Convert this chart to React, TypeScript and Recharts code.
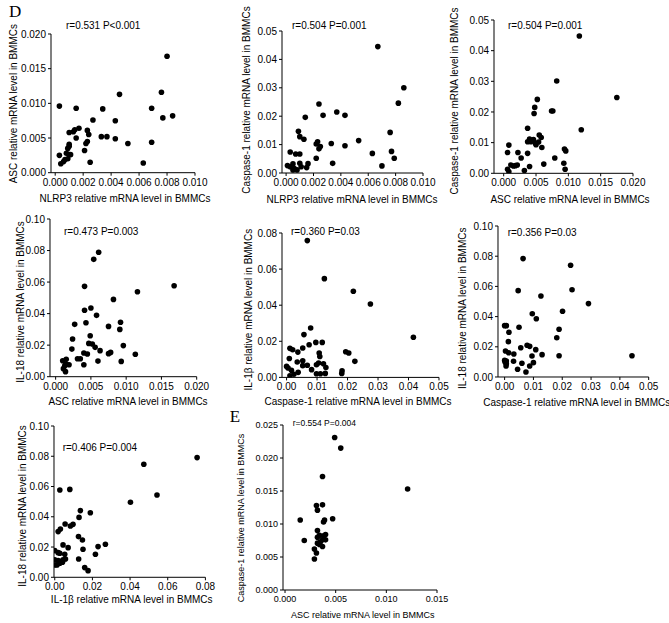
import React from 'react';
import { ScatterChart, Scatter, XAxis, YAxis, Label } from 'recharts';

const FONT = '"Liberation Sans", Arial, Helvetica, sans-serif';
const SERIF = '"Liberation Serif", "Times New Roman", serif';

// ---------- Data ----------
// Panel 1: NLRP3 vs ASC
const p1X = [0.0080,0.0076,0.0046,0.0003,0.0015,0.0034,0.0069,0.0084,0.0077,0.0027,0.0043,0.0017,0.0014,0.0010,0.0013,0.0023,0.0024,0.0015,0.0033,0.0037,0.0043,0.0052,0.0069,0.0023,0.0022,0.0010,0.0010,0.0009,0.0021,0.0008,0.0010,0.0003,0.0007,0.0006,0.0004,0.0025,0.0063,0.0009,0.0011];
const p1Y = [0.0168,0.0116,0.0113,0.0096,0.0093,0.0092,0.0093,0.0082,0.0079,0.0076,0.0075,0.0064,0.0062,0.0058,0.0059,0.0061,0.0055,0.0050,0.0052,0.0052,0.0049,0.0042,0.0044,0.0045,0.0042,0.0041,0.0038,0.0035,0.0032,0.0028,0.0026,0.0025,0.0019,0.0016,0.0013,0.0015,0.0014,0.0020,0.0026];
// Panel 2: NLRP3 vs Caspase-1
const p2X = [0.0067,0.0086,0.0082,0.0024,0.0027,0.0037,0.0043,0.0014,0.0009,0.0076,0.0010,0.0013,0.0053,0.0023,0.0022,0.0033,0.0025,0.0024,0.0043,0.0003,0.0007,0.0010,0.0063,0.0077,0.0022,0.0079,0.0034,0.0016,0.0015,0.0010,0.0005,0.0001,0.0003,0.0006,0.0008,0.0005,0.0070,0.0011];
const p2Y = [0.0445,0.0300,0.0246,0.0243,0.0203,0.0215,0.0203,0.0196,0.0147,0.0143,0.0128,0.0119,0.0114,0.0110,0.0102,0.0104,0.0093,0.0085,0.0096,0.0074,0.0067,0.0067,0.0069,0.0076,0.0052,0.0052,0.0034,0.0033,0.0019,0.0034,0.0032,0.0026,0.0022,0.0016,0.0011,0.0011,0.0025,0.0022];
// Panel 3: ASC vs Caspase-1
const p3X = [0.0117,0.0082,0.0175,0.0052,0.0048,0.0047,0.0074,0.0076,0.0037,0.0120,0.0055,0.0058,0.0040,0.0046,0.0037,0.0042,0.0049,0.0054,0.0050,0.0008,0.0059,0.0094,0.0096,0.0006,0.0022,0.0037,0.0027,0.0079,0.0093,0.0062,0.0011,0.0018,0.0021,0.0040,0.0006,0.0008,0.0032,0.0095,0.0015];
const p3Y = [0.0448,0.0301,0.0247,0.0241,0.0215,0.0195,0.0203,0.0203,0.0147,0.0142,0.0125,0.0117,0.0112,0.0110,0.0103,0.0103,0.0098,0.0102,0.0093,0.0092,0.0084,0.0079,0.0073,0.0068,0.0068,0.0065,0.0050,0.0050,0.0033,0.0030,0.0027,0.0025,0.0027,0.0022,0.0013,0.0005,0.0009,0.0013,0.0024];
// Panel 4: ASC vs IL-18
const p4X = [0.0061,0.0054,0.0168,0.0041,0.0116,0.0082,0.0041,0.0050,0.0058,0.0043,0.0027,0.0092,0.0075,0.0091,0.0049,0.0024,0.0047,0.0052,0.0096,0.0056,0.0023,0.0063,0.0078,0.0075,0.0040,0.0045,0.0113,0.0031,0.0035,0.0010,0.0015,0.0060,0.0093,0.0019,0.0013,0.0040,0.0011,0.0014,0.0015];
const p4Y = [0.0789,0.0744,0.0577,0.0573,0.0539,0.0490,0.0421,0.0436,0.0389,0.0342,0.0332,0.0345,0.0319,0.0300,0.0260,0.0239,0.0211,0.0207,0.0197,0.0186,0.0175,0.0165,0.0154,0.0146,0.0150,0.0144,0.0142,0.0114,0.0114,0.0101,0.0110,0.0099,0.0097,0.0076,0.0070,0.0076,0.0051,0.0032,0.0080];
// Panel 5: Caspase-1 vs IL-1beta
const p5X = [0.0068,0.0124,0.0219,0.0275,0.0416,0.0079,0.0057,0.0074,0.0096,0.0117,0.0053,0.0011,0.0020,0.0037,0.0009,0.0107,0.0035,0.0053,0.0204,0.0194,0.0224,0.0109,0.0098,0.0105,0.0121,0.0129,0.0053,0.0068,0.0082,0.0000,0.0005,0.0016,0.0127,0.0181,0.0182,0.0098,0.0111,0.0038,0.0024,0.0011];
const p5Y = [0.0758,0.0547,0.0477,0.0407,0.0222,0.0274,0.0237,0.0181,0.0194,0.0194,0.0163,0.0161,0.0153,0.0140,0.0105,0.0135,0.0085,0.0092,0.0135,0.0142,0.0089,0.0116,0.0070,0.0080,0.0076,0.0055,0.0065,0.0067,0.0043,0.0061,0.0052,0.0039,0.0022,0.0022,0.0037,0.0020,0.0020,0.0028,0.0017,0.0009];
// Panel 6: Caspase-1 vs IL-18
const p6X = [0.0064,0.0229,0.0234,0.0047,0.0126,0.0291,0.0201,0.0096,0.0110,0.0000,0.0006,0.0050,0.0189,0.0015,0.0181,0.0013,0.0056,0.0078,0.0087,0.0003,0.0014,0.0108,0.0130,0.0032,0.0095,0.0189,0.0442,0.0000,0.0002,0.0006,0.0031,0.0060,0.0005,0.0087,0.0100,0.0045,0.0074,0.0006];
const p6Y = [0.0784,0.0740,0.0578,0.0572,0.0536,0.0486,0.0435,0.0419,0.0386,0.0340,0.0340,0.0329,0.0316,0.0296,0.0260,0.0234,0.0194,0.0210,0.0203,0.0172,0.0161,0.0181,0.0148,0.0152,0.0139,0.0141,0.0141,0.0110,0.0097,0.0106,0.0104,0.0091,0.0073,0.0073,0.0095,0.0051,0.0033,0.0088];
// Panel 7: IL-1beta vs IL-18
const p7X = [0.0756,0.0473,0.0543,0.0402,0.0027,0.0080,0.0189,0.0136,0.0129,0.0030,0.0018,0.0055,0.0083,0.0097,0.0126,0.0147,0.0044,0.0071,0.0269,0.0230,0.0150,0.0216,0.0000,0.0018,0.0027,0.0053,0.0127,0.0057,0.0044,0.0000,0.0018,0.0032,0.0159,0.0177,0.0000,0.0012,0.0027,0.0041];
const p7Y = [0.0791,0.0747,0.0544,0.0496,0.0577,0.0581,0.0427,0.0441,0.0396,0.0319,0.0302,0.0352,0.0339,0.0350,0.0269,0.0247,0.0214,0.0196,0.0218,0.0203,0.0185,0.0152,0.0176,0.0163,0.0159,0.0152,0.0121,0.0121,0.0115,0.0115,0.0110,0.0104,0.0064,0.0044,0.0081,0.0081,0.0093,0.0099];
// Panel 8 (E): ASC vs Caspase-1
const p8X = [0.0049,0.0055,0.0037,0.0121,0.0031,0.0037,0.0032,0.0015,0.0047,0.0039,0.0038,0.0032,0.0034,0.0032,0.0038,0.0040,0.0037,0.0040,0.0019,0.0032,0.0034,0.0037,0.0029,0.0031,0.0029,0.0035];
const p8Y = [0.0231,0.0215,0.0172,0.0153,0.0128,0.0129,0.0121,0.0106,0.0108,0.0106,0.0103,0.0090,0.0083,0.0080,0.0082,0.0084,0.0076,0.0076,0.0075,0.0071,0.0069,0.0066,0.0062,0.0056,0.0047,0.0073];

// Tick values
const ticks0010by002 = [0, 0.002, 0.004, 0.006, 0.008, 0.010];
const ticks0020by005 = [0, 0.005, 0.010, 0.015, 0.020];
const ticks005by01 = [0, 0.01, 0.02, 0.03, 0.04, 0.05];
const ticks010by02 = [0, 0.02, 0.04, 0.06, 0.08, 0.10];
const ticks008by02 = [0, 0.02, 0.04, 0.06, 0.08];
const ticks0025by005 = [0, 0.005, 0.010, 0.015, 0.020, 0.025];
const ticks0015by005 = [0, 0.005, 0.010, 0.015];

// Titles and annotations
const tNLRP3 = 'NLRP3 relative mRNA level in BMMCs';
const tASC = 'ASC relative mRNA level in BMMCs';
const tCasp = 'Caspase-1 relative mRNA level in BMMCs';
const tIL18 = 'IL-18 relative mRNA level in BMMCs';
const tIL1b = 'IL-1\u03b2 relative mRNA level in BMMCs';
const notes = ['r=0.531 P<0.001', 'r=0.504 P=0.001', 'r=0.504 P=0.001', 'r=0.473 P=0.003', 'r=0.360 P=0.03', 'r=0.356 P=0.03', 'r=0.406 P=0.004', 'r=0.554 P=0.004'];

type Cfg = {
  axisX: number; xEnd: number; top: number; bottom: number;
  xMin: number; xTicks: number[]; xDec: number;
  yTicks: number[]; yDec: number;
  xs: number[]; ys: number[];
  xTitle: string; yTitle: string; note: string;
  xTitlePos: [number, number]; yTitlePos: [number, number]; notePos: [number, number];
  letter?: { text: string; x: number; y: number };
  fs: number; noteFs: number;
};

const panels: Cfg[] = [
  { axisX: 51, xEnd: 195, top: 34.3, bottom: 173, xMin: -0.0003, xTicks: ticks0010by002, xDec: 3, yTicks: ticks0020by005, yDec: 3,
    xs: p1X, ys: p1Y, xTitle: tNLRP3, yTitle: tASC, note: notes[0], xTitlePos: [125, 199], yTitlePos: [14, 104], notePos: [66, 26],
    letter: { text: 'D', x: 9, y: 17 }, fs: 10, noteFs: 10 },
  { axisX: 282, xEnd: 423, top: 31, bottom: 173, xMin: -0.0003, xTicks: ticks0010by002, xDec: 3, yTicks: ticks005by01, yDec: 2,
    xs: p2X, ys: p2Y, xTitle: tNLRP3, yTitle: tCasp, note: notes[1], xTitlePos: [352, 199], yTitlePos: [246, 100], notePos: [292, 25], fs: 10, noteFs: 10 },
  { axisX: 494, xEnd: 633, top: 20, bottom: 173.3, xMin: -0.0015, xTicks: ticks0020by005, xDec: 3, yTicks: ticks005by01, yDec: 2,
    xs: p3X, ys: p3Y, xTitle: tASC, yTitle: tCasp, note: notes[2], xTitlePos: [570, 200], yTitlePos: [455, 101], notePos: [508, 26], fs: 10, noteFs: 10 },
  { axisX: 50, xEnd: 196.7, top: 219, bottom: 376.7, xMin: -0.0008, xTicks: ticks0020by005, xDec: 3, yTicks: ticks010by02, yDec: 2,
    xs: p4X, ys: p4Y, xTitle: tASC, yTitle: tIL18, note: notes[3], xTitlePos: [128, 402], yTitlePos: [21, 302], notePos: [64, 232], fs: 10, noteFs: 10 },
  { axisX: 282, xEnd: 439, top: 233.3, bottom: 377.7, xMin: -0.0015, xTicks: ticks005by01, xDec: 2, yTicks: ticks008by02, yDec: 2,
    xs: p5X, ys: p5Y, xTitle: tCasp, yTitle: tIL1b, note: notes[4], xTitlePos: [358, 402], yTitlePos: [249, 310], notePos: [291, 232], fs: 10, noteFs: 10 },
  { axisX: 498.3, xEnd: 649, top: 225.7, bottom: 376.7, xMin: -0.0023, xTicks: ticks005by01, xDec: 2, yTicks: ticks010by02, yDec: 2,
    xs: p6X, ys: p6Y, xTitle: tCasp, yTitle: tIL18, note: notes[5], xTitlePos: [577, 402], yTitlePos: [463, 308], notePos: [508, 232], fs: 10, noteFs: 10 },
  { axisX: 54.3, xEnd: 205.7, top: 426, bottom: 577.3, xMin: -0.0004, xTicks: ticks008by02, xDec: 2, yTicks: ticks010by02, yDec: 2,
    xs: p7X, ys: p7Y, xTitle: tIL1b, yTitle: tIL18, note: notes[6], xTitlePos: [132, 600], yTitlePos: [23, 506], notePos: [63, 448], fs: 10, noteFs: 10 },
  { axisX: 283.3, xEnd: 437.3, top: 425, bottom: 590, xMin: -0.0002, xTicks: ticks0015by005, xDec: 3, yTicks: ticks0025by005, yDec: 3,
    xs: p8X, ys: p8Y, xTitle: tASC, yTitle: tCasp, note: notes[7], xTitlePos: [363, 615], yTitlePos: [241, 518], notePos: [293, 423],
    letter: { text: 'E', x: 230, y: 422 }, fs: 9, noteFs: 8.5 },
];

const Dot = (props: any) => {
  const { cx, cy } = props;
  if (cx == null || cy == null) return null;
  return <circle cx={cx} cy={cy} r={2.8} fill="#000" />;
};

function Panel({ c }: { c: Cfg }) {
  const YW = 60;
  const MT = 18;
  const MR = 15;
  const XH = 45;
  const left = c.axisX - YW;
  const top = c.top - MT;
  const width = c.xEnd + MR - left;
  const height = c.bottom + XH - top;
  const data = c.xs.map((x, i) => ({ x, y: c.ys[i] }));
  const lx = (px: number) => px - left;
  const ly = (py: number) => py - top;
  const yMax = c.yTicks[c.yTicks.length - 1];
  const xMax = c.xTicks[c.xTicks.length - 1];

  const texts = () => (
    <g>
      <text x={lx(c.notePos[0])} y={ly(c.notePos[1])} dominantBaseline="central" fontSize={c.noteFs} fontFamily={FONT} fill="#000">{c.note}</text>
      <text x={lx(c.xTitlePos[0])} y={ly(c.xTitlePos[1])} dominantBaseline="central" textAnchor="middle" fontSize={c.fs} fontFamily={FONT} fill="#000">{c.xTitle}</text>
      <text x={lx(c.yTitlePos[0])} y={ly(c.yTitlePos[1])} dominantBaseline="central" textAnchor="middle" fontSize={c.fs} fontFamily={FONT} fill="#000"
        transform={`rotate(-90 ${lx(c.yTitlePos[0])} ${ly(c.yTitlePos[1])})`}>{c.yTitle}</text>
      {c.letter ? (
        <text x={lx(c.letter.x)} y={ly(c.letter.y)} fontSize={17} fontFamily={SERIF} fill="#000">{c.letter.text}</text>
      ) : null}
    </g>
  );

  return (
    <div style={{ position: 'absolute', left, top, width, height, overflow: 'visible' }}>
      <ScatterChart width={width} height={height} margin={{ top: MT, right: MR, bottom: 0, left: 0 }} style={{ overflow: 'visible' }}>
        <XAxis type="number" dataKey="x" domain={[c.xMin, xMax]} ticks={c.xTicks} interval={0} height={XH}
          tickFormatter={(v: number) => v.toFixed(c.xDec)} tickSize={3} tickMargin={3}
          axisLine={{ stroke: '#000', strokeWidth: 1 }} tickLine={{ stroke: '#000', strokeWidth: 1 }}
          tick={{ fontSize: c.fs, fill: '#000', fontFamily: FONT }} allowDataOverflow />
        <YAxis type="number" dataKey="y" domain={[0, yMax]} ticks={c.yTicks} interval={0} width={YW}
          tickFormatter={(v: number) => v.toFixed(c.yDec)} tickSize={3} tickMargin={2}
          axisLine={{ stroke: '#000', strokeWidth: 1 }} tickLine={{ stroke: '#000', strokeWidth: 1 }}
          tick={{ fontSize: c.fs, fill: '#000', fontFamily: FONT }} allowDataOverflow>
          <Label content={texts} />
        </YAxis>
        <Scatter data={data} fill="#000" shape={Dot} isAnimationActive={false} />
      </ScatterChart>
    </div>
  );
}

export default function App() {
  return (
    <div style={{ position: 'absolute', left: 0, top: 0, width: 669, height: 623, overflow: 'hidden', background: '#fff' }}>
      <style>{'.recharts-wrapper, .recharts-surface { overflow: visible !important; }'}</style>
      {panels.map((c, i) => (
        <Panel key={i} c={c} />
      ))}
    </div>
  );
}
